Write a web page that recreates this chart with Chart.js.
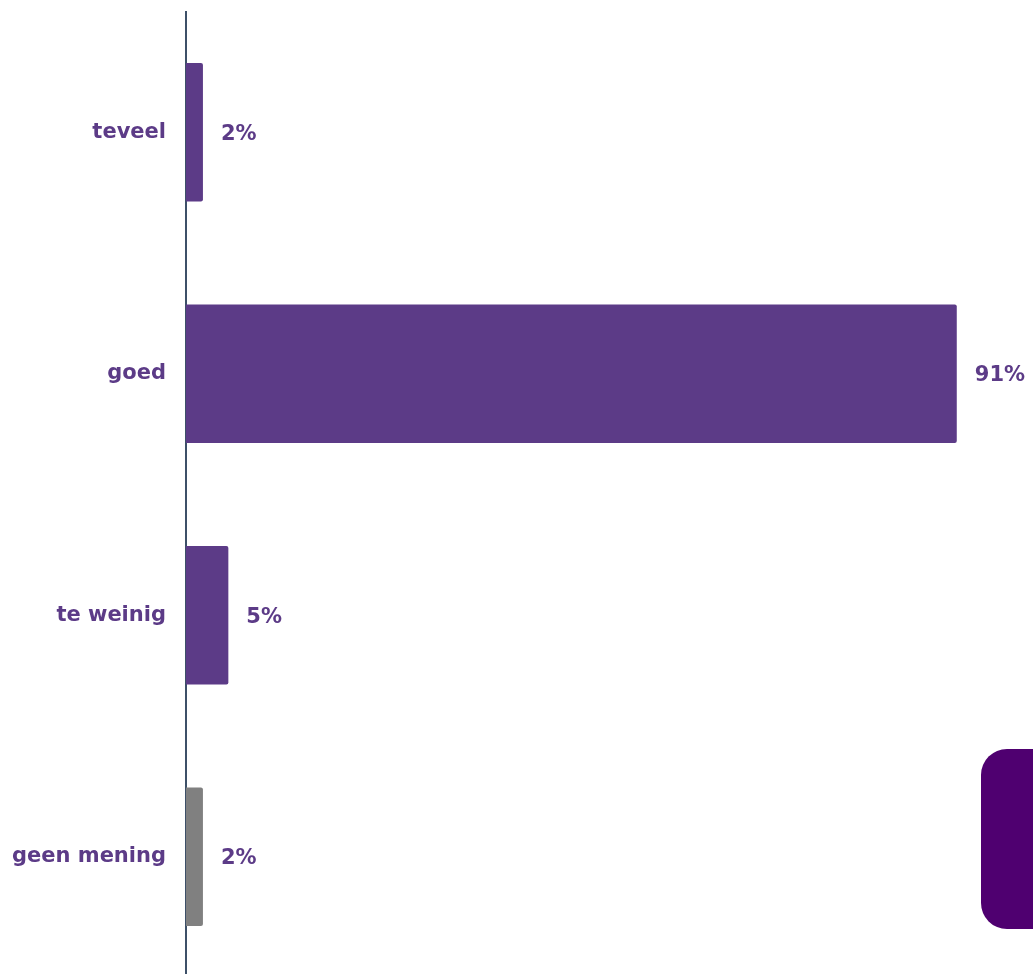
<!DOCTYPE html>
<html>
<head>
<meta charset="utf-8">
<script src="https://cdn.jsdelivr.net/npm/chart.js@4/dist/chart.umd.min.js"></script>
<style>
  html, body { margin: 0; padding: 0; background: #fff; overflow: hidden; }
  #wrap { position: relative; width: 1033px; height: 1031px; margin-top: -21px; }
  #side-tab {
    position: absolute; left: 981px; top: 749px; width: 80px; height: 180px;
    background: #4f0070; border-radius: 26px;
  }
</style>
</head>
<body>
<div id="wrap">
  <canvas id="chart"></canvas>
</div>
<div id="side-tab"></div>
<script>
const categories = ['teveel', 'goed', 'te weinig', 'geen mening'];
const percentages = [2, 91, 5, 2];
const barColors = ['#5c3b87', '#5c3b87', '#5c3b87', '#808080'];

const labelColor = '#5c3b87';
const fontFamily = '"DejaVu Sans", Verdana, sans-serif';

// Percentage text to the right of each bar
const valueLabels = {
  id: 'valueLabels',
  afterDatasetsDraw(chart) {
    const ctx = chart.ctx;
    const meta = chart.getDatasetMeta(0);
    ctx.save();
    ctx.font = 'bold 21px ' + fontFamily;
    ctx.fillStyle = labelColor;
    ctx.textAlign = 'left';
    ctx.textBaseline = 'middle';
    meta.data.forEach((bar, i) => {
      ctx.fillText(percentages[i] + '%', bar.x + 18, bar.y + 2);
    });
    ctx.restore();
  }
};

new Chart(document.getElementById('chart'), {
  type: 'bar',
  data: {
    labels: categories,
    datasets: [{
      data: percentages,
      backgroundColor: barColors,
      borderRadius: 2,
      borderSkipped: 'start',
      barPercentage: 0.574,
      categoryPercentage: 1
    }]
  },
  options: {
    indexAxis: 'y',
    responsive: true,
    maintainAspectRatio: false,
    animation: false,
    layout: { padding: { top: 10, left: 0, right: 0, bottom: 0 } },
    plugins: {
      legend: { display: false },
      tooltip: { enabled: false }
    },
    scales: {
      x: {
        display: false,
        min: 0,
        max: 100
      },
      y: {
        afterFit(scale) { scale.width = 186; },
        grid: { display: false, drawTicks: false },
        border: { display: true, color: '#3d5068', width: 2 },
        ticks: {
          padding: 20,
          color: labelColor,
          font: { family: fontFamily, size: 21, weight: 'bold' }
        }
      }
    }
  },
  plugins: [valueLabels]
});
</script>
</body>
</html>
